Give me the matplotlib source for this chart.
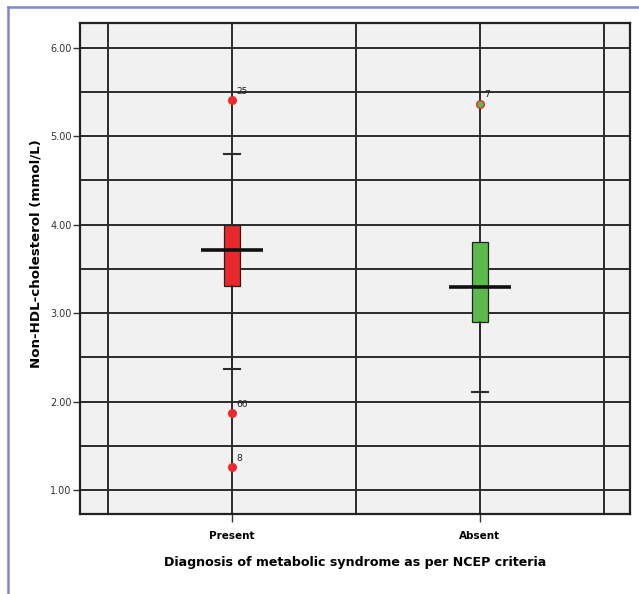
import matplotlib
matplotlib.use("Agg")
import matplotlib.pyplot as plt
from matplotlib.lines import Line2D

categories = ["Present", "Absent"]
q1 = [3.31, 2.90]
median = [3.71, 3.30]
q3 = [4.00, 3.80]
whisker_low = [2.37, 2.11]
whisker_high = [4.80, 3.80]
outlier_values = [[5.41, 1.87, 1.26], [5.37]]
outlier_labels = [["25", "66", "8"], ["7"]]
box_colors = ["#e8282b", "#5cba4c"]
outlier_face = ["#f0282b", "#5cba4c"]
outlier_edge = ["#f0282b", "#e8282b"]
y_ticks = [1.0, 2.0, 3.0, 4.0, 5.0, 6.0]

fig = plt.figure(figsize=(6.39, 5.94), dpi=100)
ax = fig.add_axes([80/639, 80/594, 550/639, 491/594])
ax.set_facecolor("#f1f1f1")

pos = list(range(len(categories)))
ax.set_xlim(-0.613, 1.605)
ax.set_ylim(0.73, 6.28)

# grid
grid_kw = dict(color="#2b2b2b", lw=1.4, zorder=1)
for yv in [1.0, 1.5, 2.0, 2.5, 3.0, 3.5, 4.0, 4.5, 5.0, 5.5, 6.0]:
    ax.axhline(yv, **grid_kw)
for xv in [-0.5, 0, 0.5, 1, 1.5]:
    ax.axvline(xv, **grid_kw)

stats = []
for i in range(len(categories)):
    stats.append(dict(med=median[i], q1=q1[i], q3=q3[i],
                      whislo=whisker_low[i], whishi=whisker_high[i],
                      fliers=[], label=categories[i]))
bp = ax.bxp(stats, positions=pos, widths=0.062, patch_artist=True,
            showfliers=False, capwidths=0.065,
            boxprops=dict(edgecolor="#222222", lw=0.9),
            whiskerprops=dict(color="#2b2b2b", lw=1.2),
            capprops=dict(color="#2b2b2b", lw=1.5),
            medianprops=dict(color="none"), zorder=3)
for patch, c in zip(bp["boxes"], box_colors):
    patch.set_facecolor(c)
for cap in bp["caps"]:
    cap.set_zorder(2)
# upper whisker of "Absent" ends at the box top: no visible cap
bp["caps"][3].set_visible(False)

# wide median lines
for i in range(len(categories)):
    ax.hlines(median[i], pos[i] - 0.124, pos[i] + 0.124, color="#111111",
              lw=2.6, zorder=4)

# outliers
for i in range(len(categories)):
    ax.scatter([pos[i]] * len(outlier_values[i]), outlier_values[i], s=30,
               facecolor=outlier_face[i], edgecolor=outlier_edge[i],
               linewidth=1.0, zorder=5)
    for v, lab in zip(outlier_values[i], outlier_labels[i]):
        ax.annotate(lab, (pos[i], v), xytext=(3, 3), textcoords="offset points",
                    fontsize=6.5, color="#222222", ha="left", va="bottom", zorder=6)

ax.set_xticks(pos)
ax.set_xticklabels(categories, fontsize=7.5, fontweight="bold")
ax.set_yticks(y_ticks)
ax.set_yticklabels([f"{v:.2f}" for v in y_ticks], fontsize=7, color="#333333")
ax.tick_params(axis="y", length=5, width=1.0, color="#333333", pad=1)
ax.tick_params(axis="x", length=6, width=1.0, color="#333333", pad=6)
for s in ax.spines.values():
    s.set_linewidth(1.6)
    s.set_color("#222222")

ax.set_ylabel("Non-HDL-cholesterol (mmol/L)", fontsize=9.6, fontweight="bold")
ax.yaxis.set_label_coords(-0.069, 0.53)
ax.set_xlabel("Diagnosis of metabolic syndrome as per NCEP criteria", fontsize=9.1,
              fontweight="bold", labelpad=11)

# blue frame (top and left)
fig.add_artist(Line2D([8/639, 8/639], [0, 1 - 7/594], color="#7f84d4", lw=1.8,
                      transform=fig.transFigure))
fig.add_artist(Line2D([8/639, 1], [1 - 7/594, 1 - 7/594], color="#7f84d4", lw=1.8,
                      transform=fig.transFigure))

fig.savefig("out.png", dpi=100)
